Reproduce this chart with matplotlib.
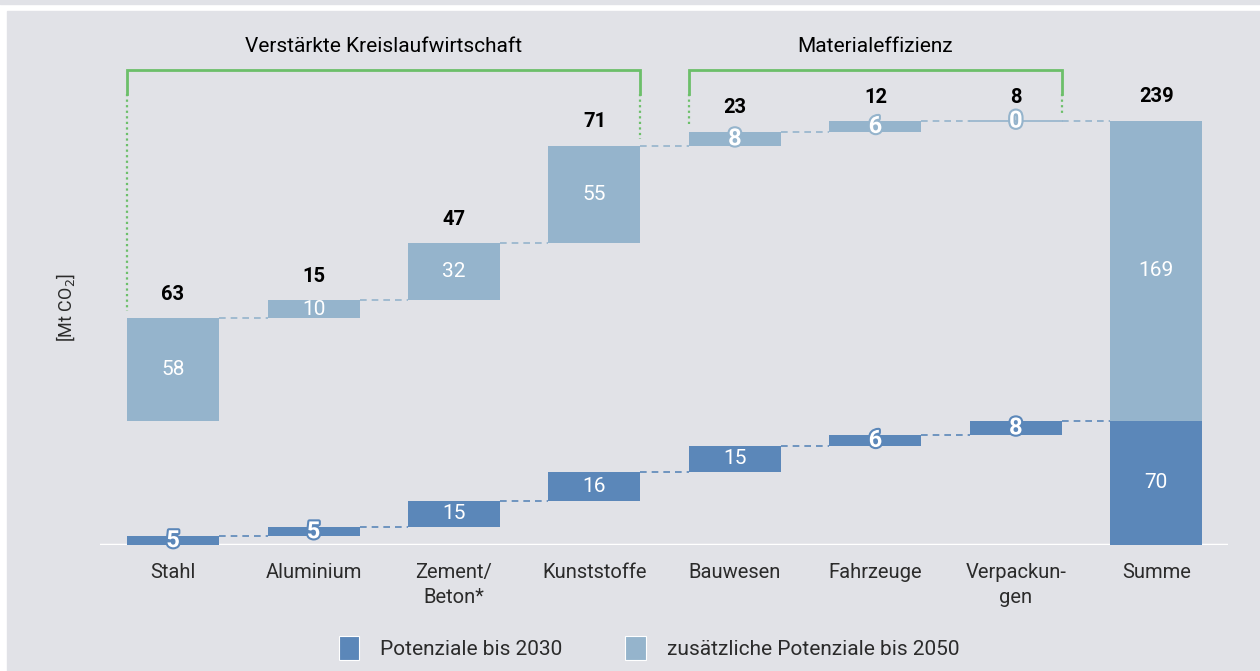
import numpy as np
import matplotlib.pyplot as plt
import matplotlib.patheffects as pe
from matplotlib.patches import Patch, Rectangle

plt.rcParams['font.family'] = ['Roboto', 'DejaVu Sans']

categories = ['Stahl', 'Aluminium', 'Zement/\nBeton*', 'Kunststoffe',
              'Bauwesen', 'Fahrzeuge', 'Verpackun-\ngen']
pot_2030 = [5, 5, 15, 16, 15, 6, 8]
pot_2050 = [58, 10, 32, 55, 8, 6, 0]
sum_label = 'Summe'
groups = [('Verstärkte Kreislaufwirtschaft', 0, 3), ('Materialeffizienz', 4, 6)]
legend_labels = ['Potenziale bis 2030', 'zusätzliche Potenziale bis 2050']
ylabel = '[Mt CO$_2$]'

dark = '#5b87b9'
light = '#95b4cc'
green = '#6cbf6a'
bg = '#e1e2e7'
txt = '#2b2b2b'

n = len(categories)
x = np.arange(n + 1)
w = 0.655

low = np.array(pot_2030, dtype=float)
high = np.array(pot_2050, dtype=float)
low_top = np.cumsum(low)
low_bot = low_top - low
total_low = low_top[-1]
high_top = total_low + np.cumsum(high)
high_bot = high_top - high
total_high = high.sum()
totals = low + high

fig = plt.figure(figsize=(12.6, 6.71), dpi=100, facecolor='white')
fig.patches.append(Rectangle((7 / 1260, 0), 1, 660 / 671, transform=fig.transFigure,
                             color=bg, zorder=-10))
fig.patches.append(Rectangle((0, 667 / 671), 1, 4 / 671, transform=fig.transFigure,
                             color=bg, zorder=-10))
ax = fig.add_axes([100 / 1260, 126 / 671, 1128 / 1260, 525 / 671])
ax.set_facecolor('none')
for s in ax.spines.values():
    s.set_visible(False)
ax.set_xlim(-0.52, n + 0.51)
ax.set_ylim(0, 296)
ax.axhline(0, color='white', lw=2.5, zorder=1)
ax.set_yticks([])
ax.set_xticks(x)
ax.set_xticklabels(categories + [sum_label], fontsize=14.5, color=txt, linespacing=1.4)
ax.tick_params(axis='x', length=0, pad=13)

# waterfall bars
ax.bar(x[:n], low, bottom=low_bot, width=w, color=dark, zorder=3)
ax.bar(x[:n], high, bottom=high_bot, width=w, color=light, zorder=3)
ax.bar(x[n], total_low, width=w, color=dark, zorder=3)
ax.bar(x[n], total_high, bottom=total_low, width=w, color=light, zorder=3)
# zero bar line
for i in range(n):
    if high[i] == 0:
        ax.plot([x[i] - w / 2, x[i] + w / 2], [high_top[i]] * 2, color=light, lw=1.2, zorder=3)

# connectors
for i in range(n):
    x0 = x[i] + w / 2
    x1 = x[i + 1] - w / 2
    ax.plot([x0, x1], [low_top[i]] * 2, color=dark, lw=1.2, ls=(0, (4, 3)), zorder=2)
    ax.plot([x0, x1], [high_top[i]] * 2, color=light, lw=1.2, ls=(0, (4, 3)), zorder=2)


def bar_label(xi, bottom, val, edge):
    yc = bottom + val / 2
    if val < 10:
        t = ax.text(xi, yc, f'{val:.0f}', ha='center', va='center', fontsize=17,
                    fontweight='bold', color='white', zorder=5)
        t.set_path_effects([pe.withStroke(linewidth=3, foreground=edge)])
    else:
        ax.text(xi, yc, f'{val:.0f}', ha='center', va='center', fontsize=15,
                color='white', zorder=5)


for i in range(n):
    bar_label(x[i], low_bot[i], low[i], dark)
    bar_label(x[i], high_bot[i], high[i], light)
    ax.text(x[i], high_top[i] + 13.5, f'{totals[i]:.0f}', ha='center', va='center',
            fontsize=14.5, fontweight='bold', color='black')
bar_label(x[n], 0, total_low, dark)
bar_label(x[n], total_low, total_high, light)
ax.text(x[n], total_low + total_high + 14, f'{total_low + total_high:.0f}', ha='center',
        va='center', fontsize=14.5, fontweight='bold', color='black')

# group brackets
top_y = 268
solid = 14
for name, i0, i1 in groups:
    xl = x[i0] - w / 2
    xr = x[i1] + w / 2
    ax.plot([xl, xl, xr, xr], [top_y - solid, top_y, top_y, top_y - solid],
            color=green, lw=2, solid_joinstyle='miter', zorder=4)
    ax.plot([xl, xl], [top_y - solid, high_top[i0] + 4], color=green, lw=1.6,
            ls=(0, (1, 1.5)), zorder=4)
    ax.plot([xr, xr], [top_y - solid, high_top[i1] + 4], color=green, lw=1.6,
            ls=(0, (1, 1.5)), zorder=4)
    ax.text((xl + xr) / 2, 281, name, ha='center', va='center', fontsize=15,
            color='black')

fig.text(66 / 1260, 1 - 307 / 671, ylabel, rotation=90, ha='center', va='center',
         fontsize=13, color=txt)

handles = [Patch(facecolor=dark, edgecolor='white', lw=0.8),
           Patch(facecolor=light, edgecolor='white', lw=0.8)]
fig.legend(handles, legend_labels, loc='center', bbox_to_anchor=(0.515, 1 - 648 / 671),
           ncol=2, frameon=False, fontsize=15, handlelength=1.0, handleheight=1.4,
           columnspacing=3.0, handletextpad=1.0, labelcolor=txt)

fig.savefig('out.png', dpi=100, facecolor=fig.get_facecolor())
